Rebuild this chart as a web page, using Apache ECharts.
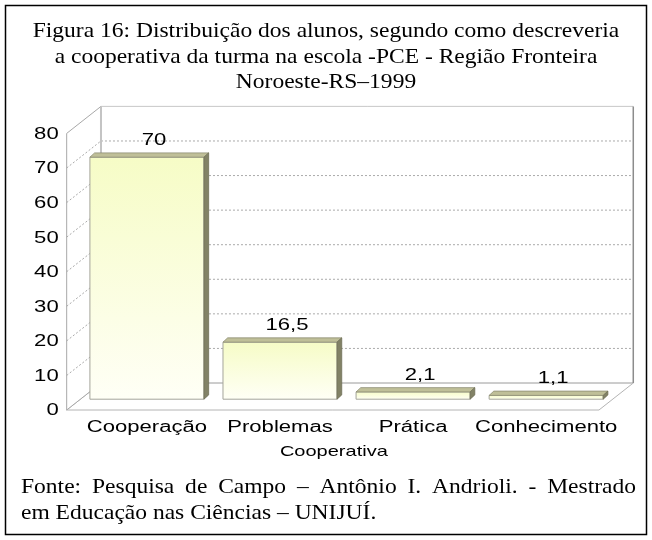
<!DOCTYPE html>
<html><head><meta charset="utf-8">
<script src="https://cdn.jsdelivr.net/npm/echarts@6/dist/echarts.min.js"></script>
<style>html,body{margin:0;padding:0;background:#fff}#c{width:652px;height:540px}</style>
</head><body><div id="c"></div>
<script>
// ---- data ----
const categories = ['Cooperação', 'Problemas', 'Prática', 'Conhecimento'];
const values = [70, 16.5, 2.1, 1.1];
const valueLabels = ['70', '16,5', '2,1', '1,1'];
const yTicks = [0, 10, 20, 30, 40, 50, 60, 70, 80];
const yTickLabels = ['0', '10', '20', '30', '40', '50', '60', '70', '80'];
const xAxisName = 'Cooperativa';
const titleLines = [
  'Figura 16: Distribuição dos alunos, segundo como descreveria',
  'a cooperativa da turma na escola -PCE - Região Fronteira',
  'Noroeste-RS\u20131999'
];
const footerLines = [
  'Fonte: Pesquisa de Campo \u2013 Antônio I. Andrioli. - Mestrado',
  'em Educação nas Ciências \u2013 UNIJUÍ.'
];

// ---- 3D look parameters ----
const DEPTH_X = 34.3, DEPTH_Y = -27, PLANE = 0.4;
const FX = -PLANE * DEPTH_X, FY = -PLANE * DEPTH_Y;
const BX = (1 - PLANE) * DEPTH_X, BY = (1 - PLANE) * DEPTH_Y;
const BAR_RATIO = 0.857;
const BAR_DX = 4.7, BAR_DY = -4.3;
const SANS = '"Liberation Sans", Arial, sans-serif';
const SERIF = '"Liberation Serif", "Times New Roman", serif';
const STRETCH = 1.38;

function stretchedText(x, y, text, align, size) {
  return {
    type: 'text', x: x, y: y, scaleX: STRETCH,
    style: { text: text, font: (size || 16) + 'px ' + SANS, fill: '#000',
      textAlign: align || 'center', textVerticalAlign: 'middle' }
  };
}

function renderFrame(params, api) {
  const cs = params.coordSys;
  const L = cs.x, R = cs.x + cs.width;
  const y0 = api.coord([0, 0])[1];
  const yMax = api.coord([0, yTicks[yTicks.length - 1]])[1];
  const ch = [];
  ch.push({ type: 'polygon', shape: { points: [[L + BX, yMax + BY], [R + BX, yMax + BY], [R + BX, y0 + BY], [L + BX, y0 + BY]] },
    style: { fill: '#fff', stroke: null } });
  ch.push({ type: 'polygon', shape: { points: [[L + FX, y0 + FY], [R + FX, y0 + FY], [R + BX, y0 + BY], [L + BX, y0 + BY]] },
    style: { fill: '#fff', stroke: '#b4b4b4', lineWidth: 1 } });
  ch.push({ type: 'polygon', shape: { points: [[L + FX, y0 + FY], [L + FX, yMax + FY], [L + BX, yMax + BY], [L + BX, y0 + BY]] },
    style: { fill: '#fff', stroke: '#a8a8a8', lineWidth: 1 } });
  yTicks.forEach(function (t, k) {
    const yy = api.coord([0, t])[1];
    if (k > 0 && k < yTicks.length - 1) {
      ch.push({ type: 'line', shape: { x1: L + BX, y1: yy + BY, x2: R + BX, y2: yy + BY },
        style: { stroke: '#aaaaaa', lineWidth: 1, lineDash: [2, 2] } });
      ch.push({ type: 'line', shape: { x1: L + FX, y1: yy + FY, x2: L + BX, y2: yy + BY },
        style: { stroke: '#aaaaaa', lineWidth: 1, lineDash: [2, 2] } });
    }
    ch.push(stretchedText(L + FX - 8, yy + FY + 1, yTickLabels[k], 'right'));
  });
  ch.push({ type: 'line', shape: { x1: L + BX, y1: yMax + BY, x2: R + BX, y2: yMax + BY }, style: { stroke: '#c8c8c8', lineWidth: 1 } });
  ch.push({ type: 'line', shape: { x1: L + BX, y1: y0 + BY, x2: R + BX, y2: y0 + BY }, style: { stroke: '#c0c0c0', lineWidth: 1 } });
  ch.push({ type: 'line', shape: { x1: L + BX, y1: yMax + BY, x2: L + BX, y2: y0 + BY }, style: { stroke: '#c4c4c4', lineWidth: 2 } });
  ch.push({ type: 'line', shape: { x1: R + BX, y1: yMax + BY, x2: R + BX, y2: y0 + BY }, style: { stroke: '#8c8c8c', lineWidth: 1.5 } });
  categories.forEach(function (c, i) {
    const cx = api.coord([i, 0])[0];
    ch.push(stretchedText(cx, y0 + 28, c, 'center'));
  });
  ch.push(stretchedText((L + R) / 2 + FX + 1, y0 + 53, xAxisName, 'center', 14.5));
  return { type: 'group', children: ch };
}

function renderBar(params, api) {
  const i = api.value(0), v = api.value(1);
  const top = api.coord([i, v]);
  const cx = top[0], yt = top[1];
  const yb = api.coord([i, 0])[1];
  const w = api.size([1, 0])[0] * BAR_RATIO;
  const x1 = cx - w / 2, x2 = cx + w / 2;
  const ch = [];
  ch.push({ type: 'rect', shape: { x: x1, y: yt, width: w, height: yb - yt },
    style: { fill: new echarts.graphic.LinearGradient(0, 0, 0, 1, [
      { offset: 0, color: '#F6FCC6' }, { offset: 1, color: '#FFFFF6' }]), stroke: '#a4a49a', lineWidth: 1 } });
  ch.push({ type: 'polygon', shape: { points: [[x1, yt], [x1 + BAR_DX, yt + BAR_DY], [x2 + BAR_DX, yt + BAR_DY], [x2, yt]] },
    style: { fill: '#BFBF98', stroke: '#8e8e74', lineWidth: 0.8 } });
  ch.push({ type: 'polygon', shape: { points: [[x2, yt], [x2 + BAR_DX, yt + BAR_DY], [x2 + BAR_DX, yb + BAR_DY], [x2, yb]] },
    style: { fill: '#828266', stroke: '#6e6e56', lineWidth: 0.8 } });
  ch.push(stretchedText(cx + 7, yt + BAR_DY - 12.5, valueLabels[params.dataIndex], 'center'));
  return { type: 'group', children: ch };
}

// text measuring helper for the justified footer line
const mctx = document.createElement('canvas').getContext('2d');
function textWidth(t, font) { mctx.font = font; return mctx.measureText(t).width; }

const chart = echarts.init(document.getElementById('c'));
const graphics = [
  { type: 'rect', shape: { x: 5.5, y: 5.5, width: 641, height: 529 }, style: { fill: null, stroke: '#000', lineWidth: 1.5 } }
];
const SERIF_FONT = '21px ' + SERIF, SERIF_SX = 1.12;
const titleY = [31, 57, 82];
titleLines.forEach(function (t, k) {
  graphics.push({ type: 'text', x: 326, y: titleY[k], scaleX: SERIF_SX,
    style: { text: t, font: SERIF_FONT, fill: '#000', textAlign: 'center', textVerticalAlign: 'middle' } });
});
const FOOT_L = 21, FOOT_R = 636;
const footY = [487, 513];
// line 1: justified
(function () {
  const words = footerLines[0].split(' ');
  const widths = words.map(function (w) { return textWidth(w, SERIF_FONT) * SERIF_SX; });
  const sum = widths.reduce(function (a, b) { return a + b; }, 0);
  const gap = (FOOT_R - FOOT_L - sum) / (words.length - 1);
  let x = FOOT_L;
  words.forEach(function (w, k) {
    graphics.push({ type: 'text', x: x, y: footY[0], scaleX: SERIF_SX,
      style: { text: w, font: SERIF_FONT, fill: '#000', textAlign: 'left', textVerticalAlign: 'middle' } });
    x += widths[k] + gap;
  });
})();
graphics.push({ type: 'text', x: FOOT_L, y: footY[1], scaleX: SERIF_SX,
  style: { text: footerLines[1], font: SERIF_FONT, fill: '#000', textAlign: 'left', textVerticalAlign: 'middle' } });

chart.setOption({
  animation: false,
  backgroundColor: '#fff',
  grid: { left: 80.4, right: 39.3, top: 122.6, bottom: 140.8 },
  xAxis: { type: 'category', data: categories, show: false },
  yAxis: { type: 'value', min: 0, max: 80, interval: 10, show: false },
  graphic: graphics,
  series: [
    { type: 'custom', name: 'frame', renderItem: renderFrame, data: [[0, 0]], z: 1, silent: true },
    { type: 'custom', name: 'Cooperativa', renderItem: renderBar, data: values.map(function (v, i) { return [i, v]; }), z: 2 }
  ]
});
</script></body></html>
